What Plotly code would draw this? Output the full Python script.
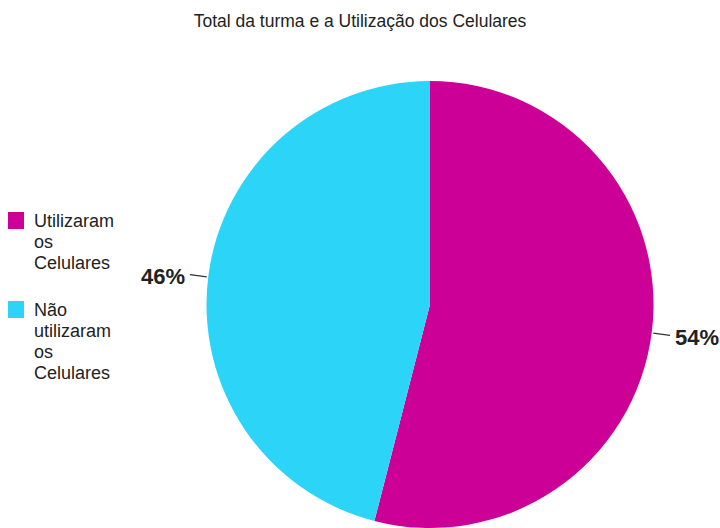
import math
import plotly.graph_objects as go

# Data
title_text = "Total da turma e a Utilização dos Celulares"
labels = ["Utilizaram os Celulares", "Não utilizaram os Celulares"]
values = [54, 46]
colors = ["#CC0096", "#2CD5F8"]

W, H = 720, 528
cx, cy, r = 430, 305, 224  # pie centre and radius in pixels

fig = go.Figure(
    go.Pie(
        labels=labels,
        values=values,
        marker=dict(colors=colors, line=dict(width=0)),
        sort=False,
        direction="clockwise",
        rotation=0,
        textinfo="none",
        hoverinfo="label+percent",
        domain=dict(x=[(cx - r) / W, (cx + r) / W], y=[max(0, 1 - (cy + r) / H), 1 - (cy - r) / H]),
        showlegend=False,
    )
)


def px(x, y):
    return x / W, 1 - y / H


shapes = []
annotations = []

# Percentage labels with short leader lines, placed at each slice's mid-angle
total = sum(values)
start = 0.0
for v in values:
    frac = v / total
    mid = (start + frac / 2) * 2 * math.pi  # clockwise from 12 o'clock
    start += frac
    dx, dy = math.sin(mid), -math.cos(mid)
    x0, y0 = cx + (r + 1) * dx, cy + (r + 1) * dy
    x1, y1 = cx + (r + 18) * dx, cy + (r + 18) * dy
    p0, p1 = px(x0, y0), px(x1, y1)
    shapes.append(dict(type="line", xref="paper", yref="paper",
                       x0=p0[0], y0=p0[1], x1=p1[0], y1=p1[1],
                       line=dict(color="#333333", width=1.2)))
    tx = x1 + (3 if dx > 0 else -3)
    pt = px(tx, y1 + 2)
    annotations.append(dict(
        xref="paper", yref="paper", x=pt[0], y=pt[1],
        text=f"<b>{round(frac * 100)}%</b>", showarrow=False,
        xanchor="left" if dx > 0 else "right", yanchor="middle",
        font=dict(family="Liberation Sans, Arial, sans-serif", size=22, color="#222222"),
    ))

# Legend: coloured squares with word-wrapped labels
item_tops = [212, 301]
line_h = 21
for top, lab, col in zip(item_tops, labels, colors):
    a, b = px(8, top), px(24, top + 17)
    shapes.append(dict(type="rect", xref="paper", yref="paper",
                       x0=a[0], y0=a[1], x1=b[0], y1=b[1],
                       fillcolor=col, line=dict(width=0)))
    for i, word in enumerate(lab.split(" ")):
        p = px(32, top + 9 + i * line_h)
        annotations.append(dict(
            xref="paper", yref="paper", x=p[0], y=p[1], text=word,
            showarrow=False, xanchor="left", yanchor="middle",
            font=dict(family="Liberation Sans, Arial, sans-serif", size=18, color="#222222"),
        ))

fig.update_layout(
    width=W, height=H,
    margin=dict(l=0, r=0, t=0, b=0),
    paper_bgcolor="white",
    plot_bgcolor="white",
    title=dict(text=title_text, x=0.5, xanchor="center", y=1 - 21 / H, yanchor="middle",
               font=dict(family="Liberation Sans, Arial, sans-serif", size=17.5, color="#222222")),
    shapes=shapes,
    annotations=annotations,
)

fig.write_html("out.html")
